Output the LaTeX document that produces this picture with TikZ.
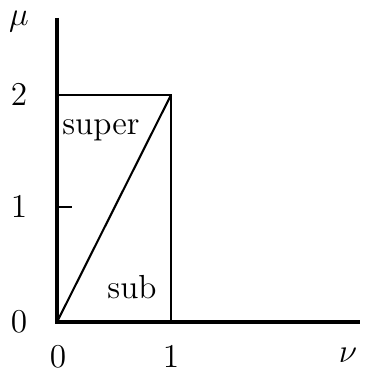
\documentclass[tikz,border=0pt]{standalone}
\begin{document}
\begin{tikzpicture}[x=0.36pt,y=0.36pt,
  axis/.style={line width=1.5pt},
  thin/.style={line width=0.75pt},
  lbl/.style={inner sep=0pt,font=\fontsize{12}{14}\selectfont}]
\useasboundingbox (0,0) rectangle (368,373);
\coordinate (O) at (57,51);
\coordinate (ytop) at (57,355);
\coordinate (xend) at (360,51);
\coordinate (tl) at (57,278);
\coordinate (tr) at (171,278);
\coordinate (br) at (171,51);
\coordinate (tick) at (72,166);
\coordinate (tick0) at (57,166);
\draw[axis] (ytop) -- (O) -- (xend);
\draw[thin] (tl) -- (tr) -- (br);
\draw[thin] (O) -- (tr);
\draw[thin] (tick0) -- (tick);
\node[lbl] (mu) at (19,351) {$\mu$};
\node[lbl] (l2) at (19,278) {$2$};
\node[lbl] (l1) at (19,166) {$1$};
\node[lbl] (l0) at (19,51) {$0$};
\node[lbl] (b0) at (58,16) {$0$};
\node[lbl] (b1) at (171,16) {$1$};
\node[lbl] (nu) at (348,18) {$\nu$};
\node[lbl] (super) at (101,243) {super};
\node[lbl] (sub) at (132,86) {sub};
\end{tikzpicture}
\end{document}
